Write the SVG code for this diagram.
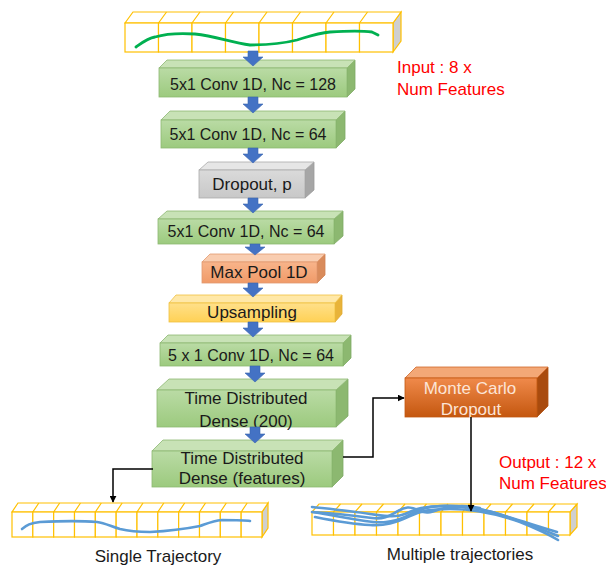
<svg xmlns="http://www.w3.org/2000/svg" width="606" height="567" viewBox="0 0 606 567">
<defs>
<linearGradient id="gG" x1="0" y1="0" x2="0" y2="1"><stop offset="0" stop-color="#BADBA5"/><stop offset="1" stop-color="#9CCA7E"/></linearGradient>
<linearGradient id="gO" x1="0" y1="0" x2="0" y2="1"><stop offset="0" stop-color="#F08A4B"/><stop offset="1" stop-color="#C4570F"/></linearGradient>
<linearGradient id="gGray" x1="0" y1="0" x2="0" y2="1"><stop offset="0" stop-color="#DADADA"/><stop offset="1" stop-color="#C8C8C8"/></linearGradient>
<linearGradient id="gS" x1="0" y1="0" x2="0" y2="1"><stop offset="0" stop-color="#F8B48A"/><stop offset="1" stop-color="#F09A68"/></linearGradient>
<linearGradient id="gY" x1="0" y1="0" x2="0" y2="1"><stop offset="0" stop-color="#FFE08A"/><stop offset="1" stop-color="#FFD155"/></linearGradient>
<marker id="ah" viewBox="0 0 10 10" refX="9" refY="5" markerWidth="7" markerHeight="7" orient="auto" markerUnits="userSpaceOnUse"><path d="M0,0 L10,5 L0,10 z" fill="#000"/></marker>
</defs>
<style>
.t{font-family:"Liberation Sans",Arial,sans-serif;font-size:17px;fill:#1a1a1a;text-anchor:middle}
.c{font-size:16px}
.red{font-family:"Liberation Sans",Arial,sans-serif;font-size:17px;fill:#FF0000}
.lab{font-family:"Liberation Sans",Arial,sans-serif;font-size:17px;fill:#1a1a1a;text-anchor:middle}
.gf{fill:url(#gG);stroke:#8DB872;stroke-width:0.8}
.gt{fill:#C8E2B6;stroke:#8DB872;stroke-width:0.8}
.gs{fill:#8CB870;stroke:#7FA964;stroke-width:0.8}
.cell{fill:#fff;stroke:#FFC000;stroke-width:1.2}
.side{fill:#CFCFCF;stroke:#FFC000;stroke-width:1.2}
.ba{fill:#4472C4;stroke:#3A64B0;stroke-width:0.6}
.con{fill:none;stroke:#000;stroke-width:1.5}
.traj{fill:none;stroke:#5B9BD5;stroke-width:2.6;stroke-linecap:round}
</style>

<g id="input-strip">
<polygon class="side" points="393,23 401,12 401,41 393,52"/>
<polygon class="cell" points="125,23 133,12 401,12 393,23"/>
<g class="cell">
<rect x="125" y="23" width="33.5" height="29"/><rect x="158.5" y="23" width="33.5" height="29"/><rect x="192" y="23" width="33.5" height="29"/><rect x="225.5" y="23" width="33.5" height="29"/><rect x="259" y="23" width="33.5" height="29"/><rect x="292.5" y="23" width="33.5" height="29"/><rect x="326" y="23" width="33.5" height="29"/><rect x="359.5" y="23" width="33.5" height="29"/>
</g>
<path d="M158.5,23 l8,-11 M192,23 l8,-11 M225.5,23 l8,-11 M259,23 l8,-11 M292.5,23 l8,-11 M326,23 l8,-11 M359.5,23 l8,-11" stroke="#FFC000" stroke-width="1.2"/>
<path d="M136,47 C143,42 148,38 155,37 C165,34 180,33 195,34 C215,36 230,42 250,45 C265,45 285,43 297,40 C310,36 318,33 330,32 C345,31 365,31 372,32 L378,35" fill="none" stroke="#00B050" stroke-width="2.8" stroke-linecap="round"/>
</g>

<g id="conv128">
<polygon class="gs" points="347,68 355,60 355,89 347,97"/>
<polygon class="gt" points="159,68 167,60 355,60 347,68"/>
<rect class="gf" x="159" y="68" width="188" height="29"/>
<text class="t c" x="253" y="90">5x1 Conv 1D, Nc = 128</text>
</g>

<g id="conv64a">
<polygon class="gs" points="336,120 345,111 345,139 336,148"/>
<polygon class="gt" points="161,120 170,111 345,111 336,120"/>
<rect class="gf" x="161" y="120" width="175" height="28"/>
<text class="t c" x="248" y="140">5x1 Conv 1D, Nc = 64</text>
</g>

<g id="dropout">
<polygon fill="#A6A6A6" stroke="#999" stroke-width="0.8" points="305,170 314,162 314,190 305,198"/>
<polygon fill="#E6E6E6" stroke="#AAA" stroke-width="0.8" points="199,170 208,162 314,162 305,170"/>
<rect fill="url(#gGray)" stroke="#AAA" stroke-width="0.8" x="199" y="170" width="106" height="28"/>
<text class="t" x="252" y="190">Dropout, p</text>
</g>

<g id="conv64b">
<polygon class="gs" points="334,219 343,211 343,236 334,244"/>
<polygon class="gt" points="158,219 167,211 343,211 334,219"/>
<rect class="gf" x="158" y="219" width="176" height="25"/>
<text class="t c" x="246" y="237">5x1 Conv 1D, Nc = 64</text>
</g>

<g id="maxpool">
<polygon fill="#D98B5B" stroke="#D08050" stroke-width="0.8" points="317,262 325,254 325,275 317,283"/>
<polygon fill="#F9CDB0" stroke="#E29A70" stroke-width="0.8" points="202,262 210,254 325,254 317,262"/>
<rect fill="url(#gS)" stroke="#E29A70" stroke-width="0.8" x="202" y="262" width="115" height="21"/>
<text class="t" x="259" y="278">Max Pool 1D</text>
</g>

<g id="upsampling">
<polygon fill="#E8B33A" stroke="#E0AA30" stroke-width="0.8" points="335,303 342,295 342,314 335,322"/>
<polygon fill="#FFE8A8" stroke="#F0C040" stroke-width="0.8" points="169,303 176,295 342,295 335,303"/>
<rect fill="url(#gY)" stroke="#F0C040" stroke-width="0.8" x="169" y="303" width="166" height="19"/>
<text class="t" x="252" y="318">Upsampling</text>
</g>

<g id="conv64c">
<polygon class="gs" points="343,343 351,335 351,358 343,366"/>
<polygon class="gt" points="160,343 168,335 351,335 343,343"/>
<rect class="gf" x="160" y="343" width="183" height="23"/>
<text class="t c" x="251" y="361">5 x 1 Conv 1D, Nc = 64</text>
</g>

<g id="tdd200">
<polygon class="gs" points="336,390 348,379 348,416 336,427"/>
<polygon class="gt" points="157,390 169,379 348,379 336,390"/>
<rect class="gf" x="157" y="390" width="179" height="37"/>
<text class="t" x="246" y="404">Time Distributed</text>
<text class="t" x="246" y="427">Dense (200)</text>
</g>

<g id="tddfeat">
<polygon class="gs" points="332,451 343,440 343,476 332,487"/>
<polygon class="gt" points="152,451 163,440 343,440 332,451"/>
<rect class="gf" x="152" y="451" width="180" height="36"/>
<text class="t" x="242" y="464">Time Distributed</text>
<text class="t" x="242" y="484">Dense (features)</text>
</g>

<g id="montecarlo">
<polygon fill="#A94B0E" stroke="#B0500F" stroke-width="0.8" points="537,378 548,367 548,406 537,417"/>
<polygon fill="#F3A877" stroke="#D0682A" stroke-width="0.8" points="405,378 416,367 548,367 537,378"/>
<rect fill="url(#gO)" stroke="#C4570F" stroke-width="0.8" x="405" y="378" width="132" height="39"/>
<text class="t" x="470" y="394" style="fill:#FCE4D6">Monte Carlo</text>
<text class="t" x="471" y="415" style="fill:#FCE4D6">Dropout</text>
</g>

<g id="single-strip">
<polygon class="side" points="262,512 268,503 268,528 262,537"/>
<polygon class="cell" points="12,512 18,503 268,503 262,512"/>
<g class="cell">
<rect x="12" y="512" width="20.83" height="25"/><rect x="32.83" y="512" width="20.83" height="25"/><rect x="53.67" y="512" width="20.83" height="25"/><rect x="74.5" y="512" width="20.83" height="25"/><rect x="95.33" y="512" width="20.83" height="25"/><rect x="116.17" y="512" width="20.83" height="25"/><rect x="137" y="512" width="20.83" height="25"/><rect x="157.83" y="512" width="20.83" height="25"/><rect x="178.67" y="512" width="20.83" height="25"/><rect x="199.5" y="512" width="20.83" height="25"/><rect x="220.33" y="512" width="20.83" height="25"/><rect x="241.17" y="512" width="20.83" height="25"/>
</g>
<path d="M32.83,512 l6,-9 M53.67,512 l6,-9 M74.5,512 l6,-9 M95.33,512 l6,-9 M116.17,512 l6,-9 M137,512 l6,-9 M157.83,512 l6,-9 M178.67,512 l6,-9 M199.5,512 l6,-9 M220.33,512 l6,-9 M241.17,512 l6,-9" stroke="#FFC000" stroke-width="1.2"/>
<path class="traj" d="M22,529 C27,525 30,523 40,522 C60,521 85,521 97,522 C105,523 110,526 120,529 C128,531 135,532 150,532 C170,531 190,528 200,526 C206,524 212,521 222,520 C235,520 245,520 250,521"/>
<text class="lab" x="158" y="562">Single Trajectory</text>
</g>

<g id="multi-strip">
<polygon class="side" points="570,512 577,504 577,527 570,535"/>
<polygon class="cell" points="312,512 319,504 577,504 570,512"/>
<g class="cell">
<rect x="312" y="512" width="21.5" height="23"/><rect x="333.5" y="512" width="21.5" height="23"/><rect x="355" y="512" width="21.5" height="23"/><rect x="376.5" y="512" width="21.5" height="23"/><rect x="398" y="512" width="21.5" height="23"/><rect x="419.5" y="512" width="21.5" height="23"/><rect x="441" y="512" width="21.5" height="23"/><rect x="462.5" y="512" width="21.5" height="23"/><rect x="484" y="512" width="21.5" height="23"/><rect x="505.5" y="512" width="21.5" height="23"/><rect x="527" y="512" width="21.5" height="23"/><rect x="548.5" y="512" width="21.5" height="23"/>
</g>
<path d="M333.5,512 l7,-8 M355,512 l7,-8 M376.5,512 l7,-8 M398,512 l7,-8 M419.5,512 l7,-8 M441,512 l7,-8 M462.5,512 l7,-8 M484,512 l7,-8 M505.5,512 l7,-8 M527,512 l7,-8 M548.5,512 l7,-8" stroke="#FFC000" stroke-width="1.2"/>
<path class="traj" d="M312,507 C330,509 350,511 370,514 C385,516 395,518 405,514 C415,509 425,506 445,506 C465,506 485,509 505,516 C525,522 540,527 557,532"/>
<path class="traj" d="M313,512 C330,515 345,518 365,521 C380,523 392,523 405,517 C415,512 422,507 440,506 C465,505 485,509 505,516 C525,523 545,530 558,536"/>
<path class="traj" d="M315,517 C335,521 350,524 370,525 C385,526 395,523 410,516 C420,511 430,509 450,509 C475,509 500,515 520,522 C535,528 548,534 558,540"/>
<path class="traj" d="M312,512 C330,513 350,515 372,518 C385,520 392,514 398,511 C405,507 410,506 418,510 C425,514 430,513 440,509 C455,505 470,506 480,508"/>
<text class="lab" x="460" y="560">Multiple trajectories</text>
</g>

<g id="arrows">
<path class="ba" d="M248,51 h10 v6 h5 l-10,9 l-10,-9 h5 z"/>
<path class="ba" d="M248,97 h10 v7 h5 l-10,9 l-10,-9 h5 z"/>
<path class="ba" d="M248,148 h10 v6 h5 l-10,9 l-10,-9 h5 z"/>
<path class="ba" d="M248,198 h10 v6 h5 l-10,9 l-10,-9 h5 z"/>
<path class="ba" d="M250,244 h10 v3 h5 l-10,8 l-10,-8 h5 z"/>
<path class="ba" d="M248,283 h10 v5 h5 l-10,9 l-10,-9 h5 z"/>
<path class="ba" d="M248,322 h10 v6 h5 l-10,9 l-10,-9 h5 z"/>
<path class="ba" d="M250,366 h10 v7 h5 l-10,9 l-10,-9 h5 z"/>
<path class="ba" d="M250,427 h10 v7 h5 l-10,9 l-10,-9 h5 z"/>
</g>

<g id="connectors">
<path class="con" d="M153,469 H113 V502" marker-end="url(#ah)"/>
<path class="con" d="M343,457 H373 V398 H404" marker-end="url(#ah)"/>
<path class="con" d="M471,417 V511" marker-end="url(#ah)"/>
</g>

<g id="notes">
<text class="red" x="397" y="73">Input : 8 x</text>
<text class="red" x="397" y="95">Num Features</text>
<text class="red" x="499" y="468">Output : 12 x</text>
<text class="red" x="499" y="489">Num Features</text>
</g>
</svg>
